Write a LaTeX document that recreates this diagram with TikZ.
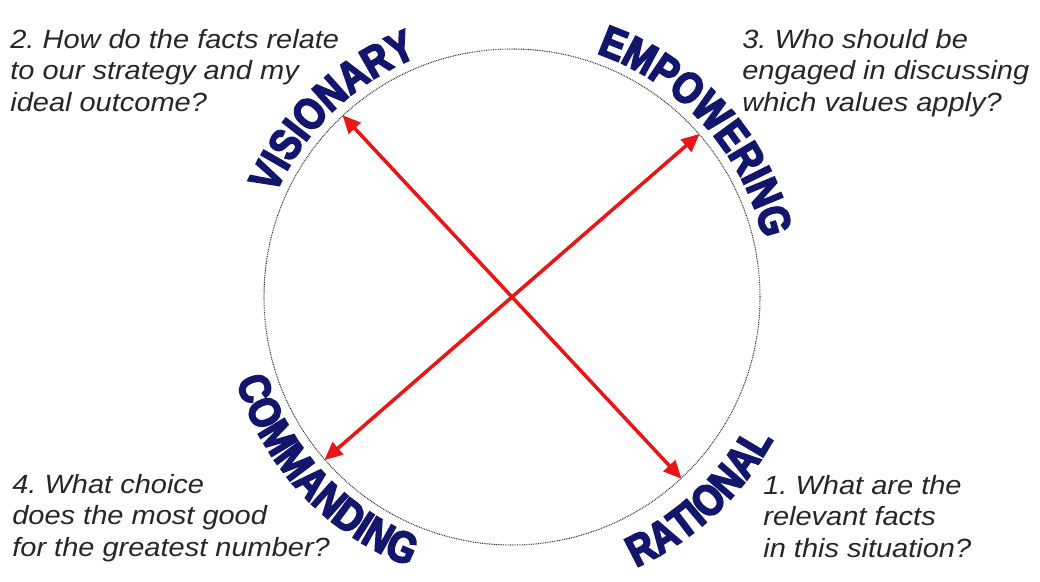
\documentclass[tikz,border=0pt]{standalone}
\usepackage{fontspec}
\setmainfont{Liberation Sans}
\newfontfamily\wordfont{Liberation Sans}[FakeBold=4, FakeStretch=0.84]
\newfontfamily\askfont{Liberation Sans}[FakeStretch=1.1]
\usepackage{xcolor}
\usepackage{tikz}
\usetikzlibrary{arrows.meta, decorations.text, calc}
\definecolor{wordblue}{RGB}{18,22,108}
\definecolor{arrowred}{RGB}{232,22,22}
\frenchspacing
\tikzset{
    question/.style={anchor=north west, inner sep=0pt, align=left, text=black!85, font=\askfont\itshape\fontsize{15}{17.9}\selectfont},
    curvedword/.style={decorate, decoration={text along path, text align=center, text={|\wordfont\bfseries\fontsize{25}{25}\selectfont\color{wordblue}|#1}}},
    axisarrow/.style={{Triangle[length=3.6mm, width=3.2mm]}-{Triangle[length=3.6mm, width=3.2mm]}, draw=arrowred, line width=2pt}
}

\begin{document}
\begin{tikzpicture}[
  ring/.style={circle, draw=black!80, dash pattern=on 0.5pt off 0.5pt, line width=0.6pt, minimum size=9.92cm, inner sep=0pt}]
  \useasboundingbox (0,0) rectangle (20.8,11.64);
  \node[ring] (ring) at (10.24,5.70) {};
  \draw[axisarrow] (ring.133) -- (ring.-47);
  \draw[axisarrow] (ring.41) -- (ring.221);
  \path[curvedword=VISIONARY] ($(ring.center)+(174:5.16)$) arc[start angle=174, end angle=94, radius=5.16cm];
  \path[curvedword=EMPOWERING] ($(ring.center)+(82:5.16)$) arc[start angle=82, end angle=2, radius=5.16cm];
  \path[curvedword=COMMANDING] ($(ring.center)+(183:5.76)$) arc[start angle=183, end angle=263, radius=5.76cm];
  \path[curvedword=RATIONAL] ($(ring.center)+(-87:5.95)$) arc[start angle=-87, end angle=-7, radius=5.95cm];
  \node[question] (q2) at (0.2,11.06) {2. How do the facts relate\\to our strategy and my\\ideal outcome?};
  \node[question] (q3) at (14.84,11.06) {3. Who should be\\engaged in discussing\\which values apply?};
  \node[question] (q4) at (0.24,2.16) {4. What choice\\does the most good\\for the greatest number?};
  \node[question] (q1) at (15.26,2.14) {1. What are the\\relevant facts\\in this situation?};
\end{tikzpicture}
\end{document}
